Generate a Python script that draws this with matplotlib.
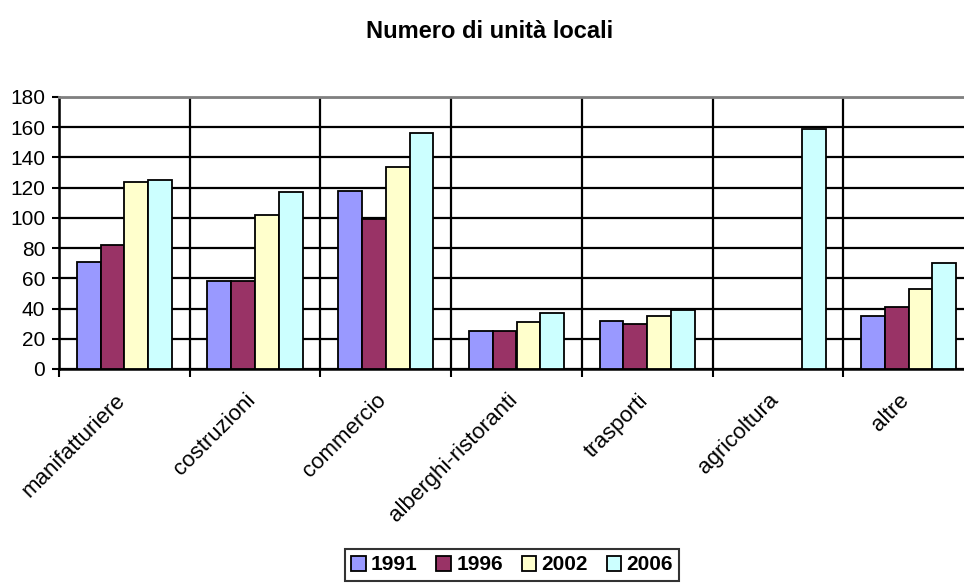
import matplotlib.pyplot as plt
import matplotlib.transforms as mtransforms
from matplotlib.patches import Patch
import numpy as np

plt.rcParams['font.family'] = ['Liberation Sans', 'DejaVu Sans']

categories = ['manifatturiere', 'costruzioni', 'commercio', 'alberghi-ristoranti',
              'trasporti', 'agricoltura', 'altre']
years = ['1991', '1996', '2002', '2006']
v1991 = [71, 58, 118, 25, 32, 0, 35]
v1996 = [82, 58, 99, 25, 30, 0, 41]
v2002 = [124, 102, 134, 31, 35, 0, 53]
v2006 = [125, 117, 156, 37, 39, 159, 70]
colors = ['#9999FF', '#993366', '#FFFFCC', '#CCFFFF']

fig = plt.figure(figsize=(9.64, 5.86), dpi=100)
ax = fig.add_axes([59 / 964, 1 - 369 / 586, (974 - 59) / 964, (369 - 97) / 586])

x = np.arange(len(categories))
w = 0.182
series = [v1991, v1996, v2002, v2006]
for i, vals in enumerate(series):
    ax.bar(x + (i - 1.5) * w, vals, width=w, color=colors[i],
           edgecolor='black', linewidth=1.3, label=years[i], zorder=3)

ax.set_xlim(-0.5, len(categories) - 0.5)
ax.set_ylim(0, 180)
ax.set_yticks(range(0, 181, 20))
ax.tick_params(axis='y', labelsize=15, length=5, width=1.5, direction='out', pad=5)

# category boundaries as major ticks, names on minor ticks
ax.set_xticks(np.arange(-0.5, len(categories), 1.0))
ax.set_xticklabels([])
ax.set_xticks(x, minor=True)
ax.set_xticklabels(categories, minor=True, rotation=45, ha='right', va='top',
                   rotation_mode='anchor', fontsize=16)
ax.tick_params(axis='x', which='major', length=6, width=1.5, direction='out')
ax.tick_params(axis='x', which='minor', length=0, pad=15)
offset = mtransforms.ScaledTranslation(-10 / 100, 0, fig.dpi_scale_trans)
for lbl in ax.get_xticklabels(minor=True):
    lbl.set_transform(lbl.get_transform() + offset)

ax.set_axisbelow(True)
ax.grid(True, which='major', axis='both', color='black', linewidth=1.6)

for side in ['left', 'bottom']:
    ax.spines[side].set_color('black')
    ax.spines[side].set_linewidth(1.8)
ax.spines['top'].set_color('#808080')
ax.spines['top'].set_linewidth(2)
ax.spines['right'].set_visible(False)

fig.text(490 / 964, 1 - 32 / 586, 'Numero di unità locali', ha='center', va='center',
         fontsize=17, fontweight='bold')

handles = [Patch(facecolor=c, edgecolor='black', linewidth=1.3) for c in colors]
leg = fig.legend(handles, years, loc='center', bbox_to_anchor=(512 / 964, 1 - 565 / 586),
                 ncol=4, frameon=True, fancybox=False, handlelength=0.7, handleheight=0.7,
                 handletextpad=0.25, columnspacing=0.9, borderpad=0.3,
                 prop={'weight': 'bold', 'size': 15})
leg.get_frame().set_edgecolor('black')
leg.get_frame().set_linewidth(1.5)

fig.savefig('out.png', dpi=100)
